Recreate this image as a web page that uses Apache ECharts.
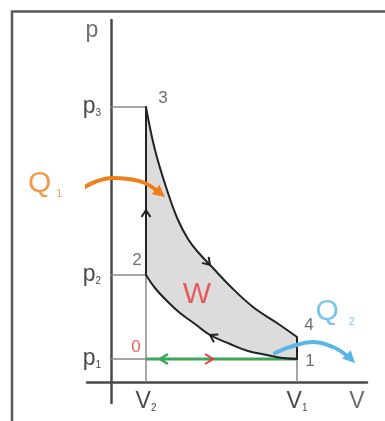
<!DOCTYPE html>
<html>
<head>
<meta charset="utf-8">
<script src="https://cdn.jsdelivr.net/npm/echarts@6/dist/echarts.min.js"></script>
<style>
html, body { margin: 0; padding: 0; background: #ffffff; }
#chart { width: 385px; height: 421px; }
</style>
</head>
<body>
<div id="chart"></div>
<script>
// Otto cycle in the p-V plane, schematic units.
const V2 = 35, V1 = 186;                 // compressed / expanded volume
const P1 = 23, P2 = 107, P3 = 275, P4 = 45;

const volumeRange = [-24, 256];
const pressureRange = [-21, 362];

// Tick labels on both axes: main letter + subscript
const volumeTicks = [V2, V1];
const volumeTickSubs = ['2', '1'];
const pressureTicks = [P1, P2, P3];
const pressureTickSubs = ['1', '2', '3'];

// Adiabatic expansion 3 -> 4
const expansion = [[35, 275], [44, 232], [57, 189], [67, 162], [77, 143], [86, 131],
  [101, 115], [119, 96], [142, 75], [166, 59], [186, 45]];
// Adiabatic compression 2 <- 1 (listed from 2 to 1)
const compression = [[35, 107], [44, 94], [57, 80], [69, 69], [84, 58], [99, 47],
  [119, 38], [137, 31], [156, 27], [172, 24], [186, 23]];

// Heat flows in (Q1) and out (Q2)
const heatIn = [[-28, 194], [-16, 200], [1, 204], [17, 203], [34, 199], [46, 191]];
const heatOut = [[164, 29], [179, 35], [202, 40], [222, 35], [235, 27]];

// State numbers
const stateNames = ['0', '1', '2', '3', '4'];
const statePoints = [[V2, P1], [V1, P1], [V2, P2], [V2, P3], [V1, P4]];

const C = {
  axis: '#4a4a4a', text: '#4a4a4a', guide: '#8a8a8a', curve: '#222222',
  fill: '#dcdcdc', green: '#3aa658', red: '#e8383d', orange: '#ef7f1a', blue: '#5ab6e6'
};
const FONT = '"Liberation Sans", Arial, sans-serif';

const chart = echarts.init(document.getElementById('chart'), null, { renderer: 'canvas' });

// closed work area 3 -> 4 -> 1 -> 2 -> 3
const cycleOutline = expansion.concat([[V1, P1]], compression.slice().reverse());

function polygonSeries(points, color) {
  return {
    type: 'custom', z: 1, silent: true, clip: false,
    data: [[points[0][0], points[0][1]]],
    renderItem: (params, api) => ({
      type: 'polygon',
      shape: { points: points.map(p => api.coord(p)) },
      style: { fill: color }
    })
  };
}

function segmentSeries(segments, color, width, z) {
  return {
    type: 'custom', z: z, silent: true, clip: false,
    data: segments,
    renderItem: (params, api) => {
      const a = api.coord([api.value(0), api.value(1)]);
      const b = api.coord([api.value(2), api.value(3)]);
      return {
        type: 'line',
        shape: { x1: a[0], y1: a[1], x2: b[0], y2: b[1] },
        style: { stroke: color, lineWidth: width }
      };
    }
  };
}

function curveSeries(points, color, width, z) {
  return {
    type: 'line', z: z, silent: true, clip: false, symbol: 'none',
    smooth: 0.4, data: points,
    lineStyle: { color: color, width: width, cap: 'round' }
  };
}

// arrow heads: [x, y, dx, dy] -> tip at (x, y), pointing along (dx, dy)
function arrowSeries(arrows, color, filled, len, half, width) {
  return {
    type: 'custom', z: 6, silent: true, clip: false,
    data: arrows,
    renderItem: (params, api) => {
      const p = api.coord([api.value(0), api.value(1)]);
      const q = api.coord([api.value(0) + api.value(2), api.value(1) + api.value(3)]);
      const ang = Math.atan2(q[1] - p[1], q[0] - p[0]);
      const pts = [[-len, -half], [0, 0], [-len, half]];
      return {
        type: filled ? 'polygon' : 'polyline',
        x: p[0], y: p[1], rotation: -ang,
        shape: { points: pts },
        style: filled ? { fill: color } : { stroke: color, lineWidth: width, fill: null, lineJoin: 'miter' }
      };
    }
  };
}

function textSeries(items, z) {
  return {
    type: 'scatter', z: z || 8, silent: true, clip: false,
    symbolSize: 0,
    data: items.map(it => ({
      value: it.at,
      label: Object.assign({
        show: true, position: 'inside', formatter: it.text,
        fontFamily: FONT, color: C.text
      }, it.style)
    }))
  };
}

const stateLabelOffsets = [[-10, -12], [13, 2], [-9, -15], [17, -9], [12, -12]];
const stateLabelColors = [C.red, C.text, C.text, C.text, C.text];

const sub = { fontFamily: FONT, fontSize: 10, verticalAlign: 'bottom' };

chart.setOption({
  animation: false,
  grid: { left: 87, right: 18, top: 20, bottom: 18, outerBoundsMode: 'none', containLabel: false },
  xAxis: {
    type: 'value', min: volumeRange[0], max: volumeRange[1],
    axisLine: { onZero: true, lineStyle: { color: C.axis, width: 2.5 } },
    axisTick: { show: false }, splitLine: { show: false },
    axisLabel: {
      // labels hang just under the axis line, which sits above the grid's bottom edge
      customValues: volumeTicks, margin: -13,
      formatter: v => '{m|V}{s|' + volumeTickSubs[volumeTicks.indexOf(v)] + '}',
      rich: {
        m: { fontFamily: FONT, fontSize: 23, color: C.text },
        s: Object.assign({ color: C.text }, sub)
      }
    }
  },
  yAxis: {
    type: 'value', min: pressureRange[0], max: pressureRange[1],
    axisLine: { onZero: true, lineStyle: { color: C.axis, width: 2.5 } },
    axisTick: { show: false }, splitLine: { show: false },
    axisLabel: {
      customValues: pressureTicks, margin: -14,
      formatter: v => '{m|p}{s|' + pressureTickSubs[pressureTicks.indexOf(v)] + '}',
      rich: {
        m: { fontFamily: FONT, fontSize: 23, color: C.text },
        s: Object.assign({ color: C.text }, sub)
      }
    }
  },
  graphic: [
    // frame around the figure
    { type: 'polyline', silent: true, shape: { points: [[12, 421], [12, 11.5], [385, 11.5]] },
      style: { stroke: '#5a5a5a', lineWidth: 2.5, fill: null } }
  ],
  series: [
    polygonSeries(cycleOutline, C.fill),
    segmentSeries([[0, P3, V2, P3], [0, P2, V2, P2], [0, P1, V2, P1],
                   [V2, 0, V2, P2], [V1, 0, V1, P1]], C.guide, 1.5, 2),
    segmentSeries([[V2, P1, V1, P1]], C.green, 3, 3),
    segmentSeries([[V2, P2, V2, P3], [V1, P1, V1, P4]], C.curve, 2, 4),
    curveSeries(expansion, C.curve, 2, 4),
    curveSeries(compression, C.curve, 2, 4),
    curveSeries(heatIn, C.orange, 4, 5),
    curveSeries(heatOut, C.blue, 4, 5),
    // direction of the cycle
    arrowSeries([[V2, 172, 0, 1], [99, 117, 1, -1.1], [99, 47, -1, 0.55]], C.curve, false, 7, 4.5, 2),
    arrowSeries([[49, P1, -1, 0]], C.green, false, 8, 5, 2.5),
    arrowSeries([[102, P1, 1, 0]], C.red, false, 8, 5, 2),
    arrowSeries([[54, 185, 1, -0.8]], C.orange, true, 12, 6),
    arrowSeries([[244, 19, 1, -1]], C.blue, true, 12, 6),
    // state numbers
    textSeries(stateNames.map((n, i) => ({
      at: statePoints[i], text: n,
      style: { fontSize: 17, color: stateLabelColors[i], offset: stateLabelOffsets[i] }
    }))),
    // axis names, work and heat labels
    textSeries([
      { at: [-19, 351], text: 'p', style: { fontSize: 23 } },
      { at: [246, -20], text: 'V', style: { fontSize: 23 } },
      { at: [86, 87], text: 'W', style: { fontSize: 30, color: C.red } },
      { at: [-66, 198], text: '{q|Q}{s|1}', style: { rich: {
          q: { fontFamily: FONT, fontSize: 30, color: C.orange },
          s: Object.assign({ color: C.orange, padding: [0, 0, 0, 5] }, sub) } } },
      { at: [224, 70], text: '{q|Q}{s|2}', style: { rich: {
          q: { fontFamily: FONT, fontSize: 30, color: C.blue },
          s: Object.assign({ color: C.blue, padding: [0, 0, 0, 10] }, sub) } } }
    ])
  ]
});
</script>
</body>
</html>
